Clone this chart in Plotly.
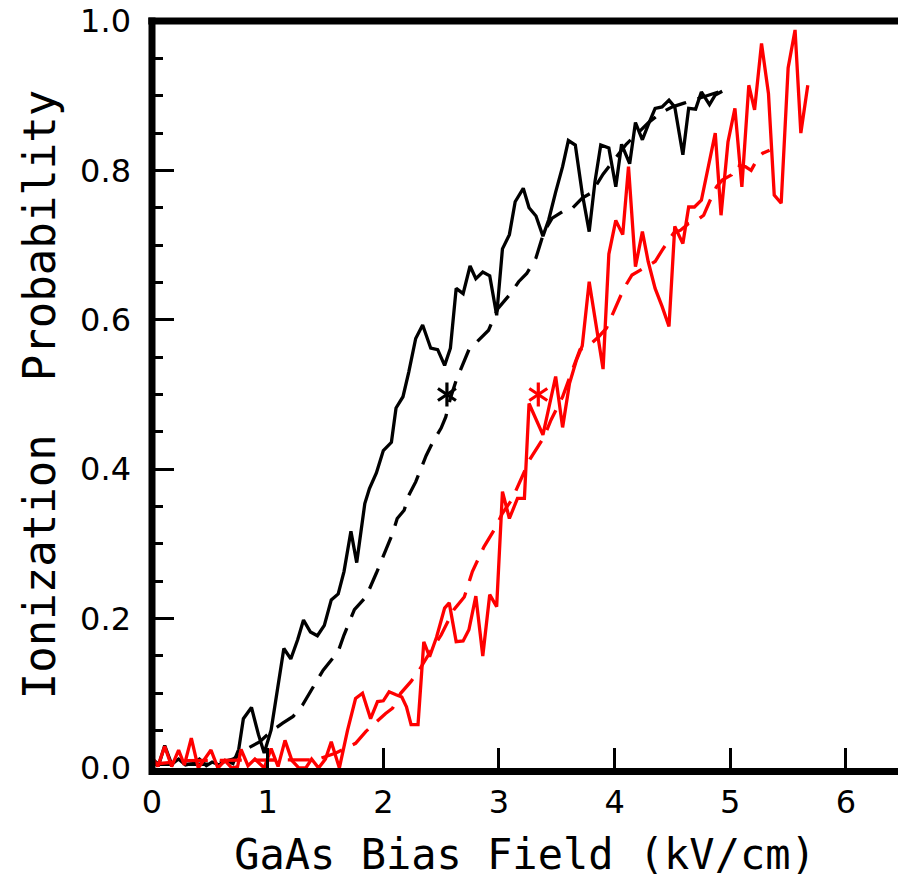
import plotly.graph_objects as go

# ---------------- data ----------------
black_solid_x = [0.00, 0.06, 0.11, 0.17, 0.23, 0.29, 0.35, 0.41, 0.47, 0.52, 0.58, 0.64, 0.70, 0.75,
                 0.79, 0.86, 0.92, 0.97, 1.03, 1.09, 1.14, 1.20, 1.26, 1.31, 1.37, 1.43, 1.49, 1.55,
                 1.61, 1.66, 1.72, 1.77, 1.84, 1.88, 1.94, 2.00, 2.07, 2.11, 2.17, 2.22, 2.28, 2.34,
                 2.41, 2.47, 2.53, 2.58, 2.63, 2.69, 2.75, 2.80, 2.86, 2.92, 2.98, 3.03, 3.09, 3.14,
                 3.21, 3.26, 3.32, 3.38, 3.43, 3.49, 3.55, 3.60, 3.66, 3.72, 3.78, 3.83, 3.88, 3.95,
                 4.01, 4.06, 4.13, 4.18, 4.24, 4.29, 4.35, 4.41, 4.47, 4.52, 4.59, 4.64, 4.70, 4.75,
                 4.82, 4.87, 4.93]
black_solid_y = [0.012, 0.005, 0.030, 0.005, 0.012, 0.004, 0.006, 0.012, 0.003, 0.008, 0.004, 0.010,
                 0.006, 0.025, 0.066, 0.081, 0.045, 0.020, 0.051, 0.111, 0.160, 0.146, 0.172, 0.198,
                 0.182, 0.177, 0.191, 0.225, 0.233, 0.263, 0.317, 0.275, 0.354, 0.374, 0.395, 0.425,
                 0.436, 0.482, 0.497, 0.530, 0.575, 0.593, 0.562, 0.560, 0.539, 0.562, 0.642, 0.635,
                 0.672, 0.655, 0.664, 0.659, 0.606, 0.695, 0.714, 0.758, 0.776, 0.750, 0.739, 0.712,
                 0.734, 0.771, 0.805, 0.840, 0.834, 0.769, 0.718, 0.785, 0.834, 0.830, 0.778, 0.835,
                 0.809, 0.864, 0.841, 0.861, 0.883, 0.885, 0.894, 0.885, 0.821, 0.883, 0.882, 0.905,
                 0.888, 0.901, 0.906]

black_dash_x = [0.00, 0.10, 0.20, 0.30, 0.40, 0.50, 0.60, 0.70, 0.75, 0.80, 0.93, 1.03, 1.13, 1.22,
                1.30, 1.40, 1.48, 1.61, 1.66, 1.75, 1.85, 1.94, 1.99, 2.08, 2.12, 2.18, 2.22, 2.28,
                2.37, 2.43, 2.50, 2.54, 2.58, 2.63, 2.74, 2.83, 2.91, 2.99, 3.10, 3.17, 3.24, 3.32,
                3.39, 3.46, 3.55, 3.62, 3.72, 3.80, 3.90, 4.00, 4.10, 4.20, 4.30, 4.40, 4.50, 4.60,
                4.70, 4.80, 4.90]
black_dash_y = [0.005, 0.005, 0.005, 0.005, 0.005, 0.005, 0.008, 0.012, 0.016, 0.024, 0.035, 0.049,
                0.060, 0.069, 0.084, 0.110, 0.131, 0.156, 0.178, 0.212, 0.229, 0.261, 0.281, 0.314,
                0.334, 0.345, 0.365, 0.383, 0.418, 0.437, 0.455, 0.470, 0.495, 0.519, 0.560, 0.573,
                0.586, 0.615, 0.635, 0.651, 0.662, 0.683, 0.718, 0.736, 0.745, 0.747, 0.763, 0.770,
                0.795, 0.815, 0.835, 0.850, 0.865, 0.877, 0.885, 0.890, 0.895, 0.900, 0.905]

red_solid_x = [0.00, 0.05, 0.11, 0.17, 0.23, 0.28, 0.34, 0.40, 0.46, 0.51, 0.57, 0.63, 0.69, 0.74,
               0.77, 0.83, 0.89, 0.97, 1.03, 1.09, 1.15, 1.21, 1.27, 1.33, 1.38, 1.44, 1.50, 1.55,
               1.62, 1.69, 1.76, 1.82, 1.89, 1.95, 2.00, 2.05, 2.11, 2.16, 2.20, 2.24, 2.30, 2.35,
               2.40, 2.46, 2.53, 2.57, 2.63, 2.69, 2.74, 2.80, 2.86, 2.92, 2.98, 3.03, 3.09, 3.16,
               3.22, 3.26, 3.38, 3.49, 3.55, 3.61, 3.67, 3.72, 3.78, 3.84, 3.90, 3.95, 4.01, 4.07,
               4.12, 4.18, 4.24, 4.29, 4.35, 4.41, 4.47, 4.52, 4.59, 4.64, 4.69, 4.75, 4.81, 4.87,
               4.92, 4.98, 5.04, 5.10, 5.16, 5.21, 5.27, 5.33, 5.38, 5.44, 5.50, 5.56, 5.61, 5.67]
red_solid_y = [0.015, 0.002, 0.029, 0.002, 0.024, 0.004, 0.040, 0.000, 0.013, 0.024, 0.000, 0.010,
               0.000, 0.002, 0.025, 0.003, 0.012, 0.000, 0.026, 0.002, 0.037, 0.010, 0.000, 0.000,
               0.012, 0.000, 0.012, 0.035, 0.000, 0.050, 0.093, 0.100, 0.066, 0.089, 0.090, 0.102,
               0.098, 0.095, 0.082, 0.058, 0.058, 0.169, 0.149, 0.175, 0.214, 0.221, 0.169, 0.170,
               0.185, 0.230, 0.150, 0.232, 0.216, 0.370, 0.334, 0.361, 0.361, 0.488, 0.446, 0.524,
               0.456, 0.515, 0.546, 0.565, 0.651, 0.592, 0.534, 0.688, 0.733, 0.714, 0.805, 0.671,
               0.718, 0.678, 0.642, 0.618, 0.591, 0.725, 0.702, 0.751, 0.751, 0.760, 0.803, 0.850,
               0.740, 0.838, 0.883, 0.778, 0.914, 0.881, 0.970, 0.903, 0.767, 0.756, 0.937, 0.988,
               0.850, 0.914]

red_dash_x = [0.00, 0.10, 0.20, 0.30, 0.40, 0.50, 0.60, 0.70, 0.80, 0.90, 1.00, 1.10, 1.20, 1.30,
              1.42, 1.59, 1.76, 1.85, 1.94, 2.02, 2.08, 2.15, 2.24, 2.31, 2.40, 2.50, 2.61, 2.70,
              2.77, 2.87, 2.96, 3.03, 3.11, 3.20, 3.27, 3.39, 3.45, 3.55, 3.62, 3.70, 3.78, 3.86,
              3.93, 3.99, 4.08, 4.15, 4.25, 4.35, 4.41, 4.51, 4.57, 4.64, 4.70, 4.77, 4.82, 4.88,
              4.93, 5.01, 5.05, 5.13, 5.18, 5.24, 5.28, 5.34]
red_dash_y = [0.005, 0.006, 0.008, 0.010, 0.010, 0.010, 0.010, 0.010, 0.010, 0.010, 0.010, 0.010,
              0.010, 0.010, 0.011, 0.020, 0.033, 0.049, 0.062, 0.073, 0.080, 0.100, 0.116, 0.131,
              0.154, 0.178, 0.212, 0.229, 0.263, 0.296, 0.319, 0.341, 0.359, 0.390, 0.414, 0.443,
              0.466, 0.497, 0.526, 0.560, 0.566, 0.577, 0.589, 0.611, 0.642, 0.660, 0.669, 0.678,
              0.693, 0.716, 0.720, 0.729, 0.732, 0.740, 0.758, 0.778, 0.787, 0.794, 0.807, 0.805,
              0.800, 0.817, 0.823, 0.827]

star_x = [2.55, 3.34]
star_y = [0.50, 0.50]
star_colors = ["black", "red"]

x_ticks = [0, 1, 2, 3, 4, 5, 6]
y_ticks = [0.0, 0.2, 0.4, 0.6, 0.8, 1.0]
y_ticklabels = ["0.0", "0.2", "0.4", "0.6", "0.8", "1.0"]

x_title = "GaAs Bias Field (kV/cm)"
y_title = "Ionization\u00a0\u00a0Probability\u00a0"

# ---------------- figure ----------------
FONT = "DejaVu Sans"
TITLE_FONT = "DejaVu Sans Mono"
LW = 3.3
DASH = "22px,12px"

fig = go.Figure()
fig.add_trace(go.Scatter(x=black_solid_x, y=black_solid_y, mode="lines",
                         line=dict(color="black", width=LW)))
fig.add_trace(go.Scatter(x=black_dash_x, y=black_dash_y, mode="lines",
                         line=dict(color="black", width=LW, dash=DASH)))
fig.add_trace(go.Scatter(x=red_solid_x, y=red_solid_y, mode="lines",
                         line=dict(color="#ff0000", width=LW)))
fig.add_trace(go.Scatter(x=red_dash_x, y=red_dash_y, mode="lines",
                         line=dict(color="#ff0000", width=LW, dash=DASH)))
for sym in ["y-up-open", "y-down-open"]:
    fig.add_trace(go.Scatter(x=star_x, y=star_y, mode="markers", cliponaxis=False,
                             marker=dict(symbol=sym, size=15, color=star_colors,
                                         line=dict(color=star_colors, width=3.2))))

fig.update_layout(
    width=898, height=886,
    margin=dict(l=152, r=0, t=21, b=118),
    paper_bgcolor="white", plot_bgcolor="white",
    showlegend=False,
    font=dict(family=FONT, size=32, color="black"),
    xaxis=dict(range=[0, 6.45], tickvals=x_ticks, ticks="inside", ticklen=20, tickwidth=3,
               tickcolor="black", showline=True, linewidth=7, linecolor="black", mirror=False,
               showgrid=False, zeroline=False, tickfont=dict(size=32),
               title=dict(text=x_title, font=dict(size=42, family=TITLE_FONT), standoff=22)),
    yaxis=dict(range=[0, 1], tickvals=y_ticks, ticktext=y_ticklabels, ticks="inside",
               ticklen=22, tickwidth=3, tickcolor="black", showline=False,
               showgrid=False, zeroline=False,
               tickfont=dict(size=32), ticklabelstandoff=20,
               minor=dict(dtick=0.05, tick0=0, ticks="inside", ticklen=11, tickwidth=3,
                          tickcolor="black", showgrid=False),
               title=dict(text=y_title, font=dict(size=44, family=TITLE_FONT), standoff=10)),
    shapes=[
        dict(type="line", xref="paper", yref="paper", x0=0, x1=0, y0=-0.0094, y1=1.0047,
             line=dict(color="black", width=7), layer="above"),
        dict(type="line", xref="paper", yref="paper", x0=-0.005, x1=1.0, y0=1.0, y1=1.0,
             line=dict(color="black", width=7), layer="above"),
    ],
)

fig.write_html("out.html")
